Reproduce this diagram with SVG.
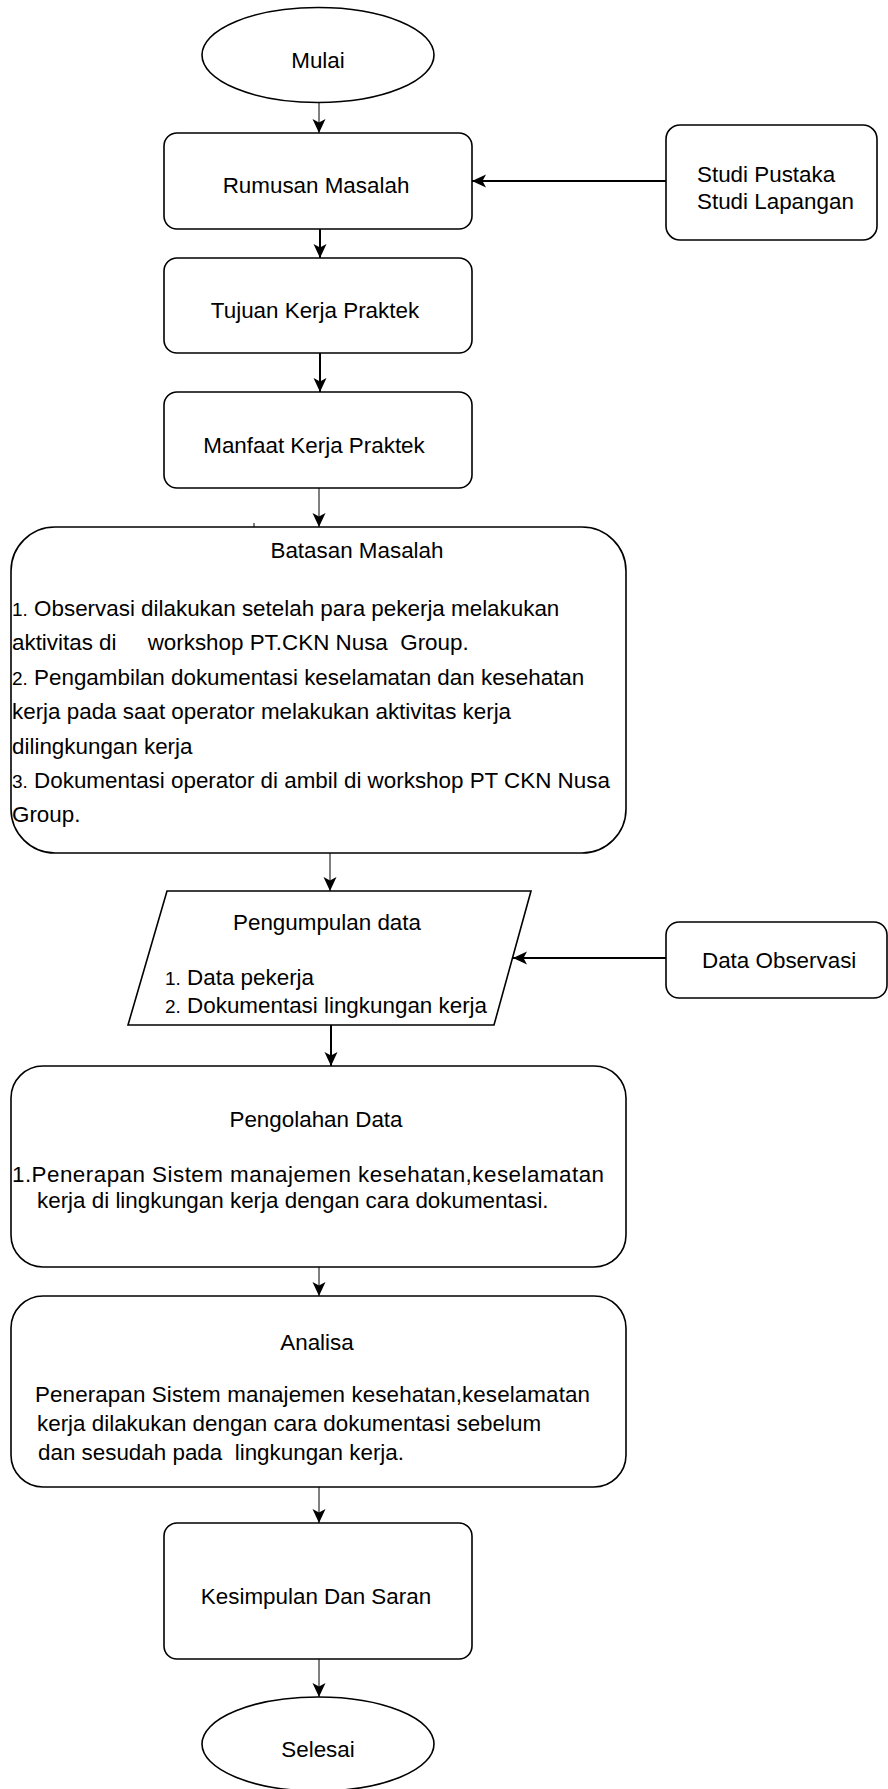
<svg xmlns="http://www.w3.org/2000/svg" width="888" height="1789" viewBox="0 0 888 1789">
<style>
.s{fill:#fff;stroke:#000;stroke-width:1.6}
.t{font-family:"Liberation Sans",Arial,sans-serif;font-size:22.4px;fill:#000}
.c{text-anchor:middle}
.n{font-size:19px}
.thin{stroke:#000;stroke-width:1;fill:none}
.thick{stroke:#000;stroke-width:2;fill:none}
</style>
<defs>
<marker id="ah" markerUnits="userSpaceOnUse" markerWidth="16" markerHeight="14" refX="14" refY="6.5" orient="auto">
<path d="M0,0 L14,6.5 L0,13 L3.5,6.5 z" fill="#000"/>
</marker>
</defs>
<rect width="888" height="1789" fill="#fff"/>

<g id="connectors">
<line class="thin" x1="319" y1="102" x2="319" y2="133" marker-end="url(#ah)"/>
<line class="thick" x1="666" y1="181" x2="472" y2="181" marker-end="url(#ah)"/>
<line class="thick" x1="320" y1="229" x2="320" y2="258" marker-end="url(#ah)"/>
<line class="thick" x1="320" y1="353" x2="320" y2="392" marker-end="url(#ah)"/>
<line class="thin" x1="319" y1="488" x2="319" y2="527" marker-end="url(#ah)"/>
<line class="thin" x1="254" y1="523" x2="254" y2="527"/>
<line class="thin" x1="330" y1="853" x2="330" y2="891" marker-end="url(#ah)"/>
<line class="thick" x1="666" y1="958" x2="513" y2="958" marker-end="url(#ah)"/>
<line class="thick" x1="331" y1="1025" x2="331" y2="1066" marker-end="url(#ah)"/>
<line class="thin" x1="319" y1="1267" x2="319" y2="1296" marker-end="url(#ah)"/>
<line class="thin" x1="319" y1="1487" x2="319" y2="1523" marker-end="url(#ah)"/>
<line class="thin" x1="319" y1="1659" x2="319" y2="1697" marker-end="url(#ah)"/>
</g>

<g id="mulai">
<ellipse class="s" cx="318" cy="55" rx="116" ry="47.5"/>
<text class="t c" x="318" y="68">Mulai</text>
</g>

<g id="rumusan">
<rect class="s" x="164" y="133" width="308" height="96" rx="13"/>
<text class="t c" x="316" y="193">Rumusan Masalah</text>
</g>

<g id="studi">
<rect class="s" x="666" y="125" width="211" height="115" rx="14"/>
<text class="t" x="697" y="182">Studi Pustaka</text>
<text class="t" x="697" y="209">Studi Lapangan</text>
</g>

<g id="tujuan">
<rect class="s" x="164" y="258" width="308" height="95" rx="13"/>
<text class="t c" x="315" y="318">Tujuan Kerja Praktek</text>
</g>

<g id="manfaat">
<rect class="s" x="164" y="392" width="308" height="96" rx="13"/>
<text class="t c" x="314" y="453">Manfaat Kerja Praktek</text>
</g>

<g id="batasan">
<rect class="s" x="11" y="527" width="615" height="326" rx="44"/>
<text class="t c" x="357" y="558">Batasan Masalah</text>
<text class="t" x="12" y="616" xml:space="preserve"><tspan class="n">1.</tspan> Observasi dilakukan setelah para pekerja melakukan</text>
<text class="t" x="12" y="650" xml:space="preserve">aktivitas di     workshop PT.CKN Nusa  Group.</text>
<text class="t" x="12" y="685" xml:space="preserve"><tspan class="n">2.</tspan> Pengambilan dokumentasi keselamatan dan kesehatan</text>
<text class="t" x="12" y="719">kerja pada saat operator melakukan aktivitas kerja</text>
<text class="t" x="12" y="754">dilingkungan kerja</text>
<text class="t" x="12" y="788" xml:space="preserve"><tspan class="n">3.</tspan> Dokumentasi operator di ambil di workshop PT CKN Nusa</text>
<text class="t" x="12" y="822">Group.</text>
</g>

<g id="pengumpulan">
<polygon class="s" points="167,891 531,891 494,1025 128,1025"/>
<text class="t c" x="327" y="930">Pengumpulan data</text>
<text class="t" x="165" y="985" xml:space="preserve"><tspan class="n">1.</tspan> Data pekerja</text>
<text class="t" x="165" y="1013" xml:space="preserve"><tspan class="n">2.</tspan> Dokumentasi lingkungan kerja</text>
</g>

<g id="observasi">
<rect class="s" x="666" y="922" width="221" height="76" rx="13"/>
<text class="t" x="702" y="968">Data Observasi</text>
</g>

<g id="pengolahan">
<rect class="s" x="11" y="1066" width="615" height="201" rx="32"/>
<text class="t c" x="316" y="1127">Pengolahan Data</text>
<text class="t" x="12" y="1182" textLength="592">1.Penerapan Sistem manajemen kesehatan,keselamatan</text>
<text class="t" x="37" y="1208">kerja di lingkungan kerja dengan cara dokumentasi.</text>
</g>

<g id="analisa">
<rect class="s" x="11" y="1296" width="615" height="191" rx="32"/>
<text class="t c" x="317" y="1350">Analisa</text>
<text class="t" x="35" y="1402" textLength="555">Penerapan Sistem manajemen kesehatan,keselamatan</text>
<text class="t" x="37" y="1431">kerja dilakukan dengan cara dokumentasi sebelum</text>
<text class="t" x="38" y="1460" xml:space="preserve">dan sesudah pada  lingkungan kerja.</text>
</g>

<g id="kesimpulan">
<rect class="s" x="164" y="1523" width="308" height="136" rx="13"/>
<text class="t c" x="316" y="1604">Kesimpulan Dan Saran</text>
</g>

<g id="selesai">
<ellipse class="s" cx="318" cy="1744" rx="116" ry="47"/>
<text class="t c" x="318" y="1757">Selesai</text>
</g>
</svg>
